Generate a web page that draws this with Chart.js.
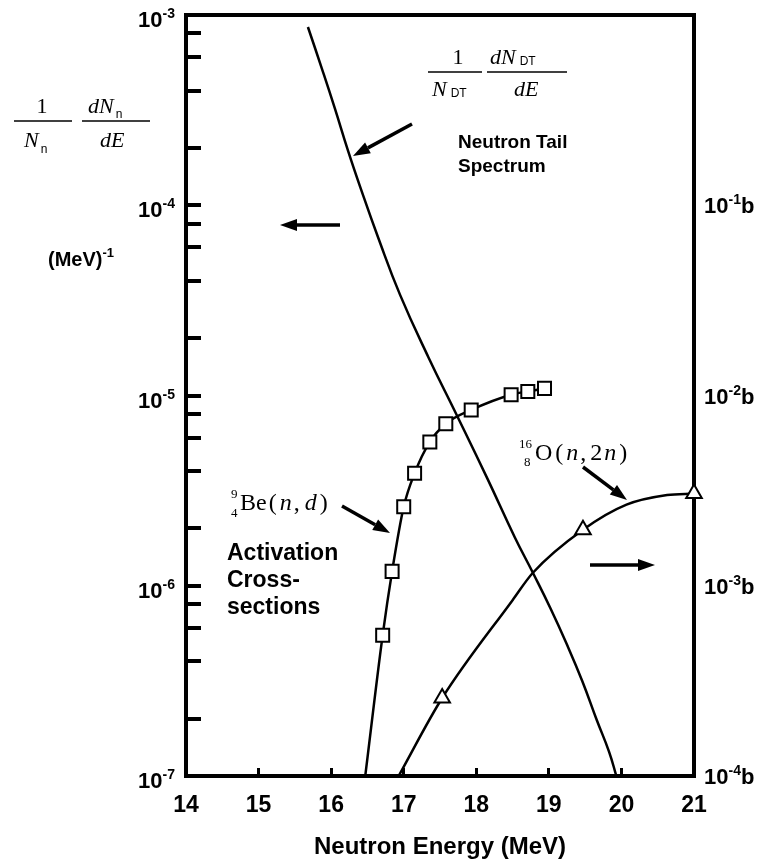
<!DOCTYPE html>
<html>
<head>
<meta charset="utf-8">
<script src="https://cdn.jsdelivr.net/npm/chart.js@4.4.1/dist/chart.umd.min.js"></script>
<style>
html,body{margin:0;padding:0;background:#fff;}
#wrap{width:767px;height:867px;position:relative;}
</style>
</head>
<body>
<div id="wrap"><canvas id="c" width="767" height="867"></canvas></div>
<script>
// ---------- data ----------
const energyTicks = [14, 15, 16, 17, 18, 19, 20, 21];
const spectrumTicks = [1e-7, 2e-7, 4e-7, 6e-7, 8e-7, 1e-6, 2e-6, 4e-6, 6e-6, 8e-6,
                       1e-5, 2e-5, 4e-5, 6e-5, 8e-5, 1e-4, 2e-4, 4e-4, 6e-4, 8e-4, 1e-3];
const spectrumLabelExponents = [-7, -6, -5, -4, -3];
const crossSectionLabelExponents = [-4, -3, -2, -1];

// Neutron tail spectrum (1/N dN/dE, MeV^-1), left axis
const tailEnergy   = [15.68, 15.87, 16.05, 16.23, 16.40, 16.65, 16.95, 17.34, 17.73, 18.15,
                      18.53, 18.78, 19.02, 19.24, 19.46, 19.66, 19.83, 19.93];
const tailSpectrum = [8.65e-4, 5.26e-4, 3.24e-4, 1.95e-4, 1.25e-4, 6.73e-5, 3.38e-5, 1.59e-5, 7.9e-6, 3.68e-6,
                      1.80e-6, 1.17e-6, 7.64e-7, 5.0e-7, 3.16e-7, 1.97e-7, 1.34e-7, 1.0e-7];

// 9Be(n,d) activation cross-section (barn), right axis
const beEnergy       = [16.47, 16.71, 16.84, 17.00, 17.15, 17.36, 17.58, 17.93, 18.48, 18.71, 18.94];
const beCrossSection = [1.0e-4, 5.5e-4, 1.19e-3, 2.6e-3, 3.9e-3, 5.7e-3, 7.1e-3, 8.4e-3, 1.01e-2, 1.05e-2, 1.09e-2];
const beMeasured     = [false, true, true, true, true, true, true, true, true, true, true];

// 16O(n,2n) activation cross-section (barn), right axis
const oEnergy       = [16.93, 17.53, 18.50, 18.78, 19.47, 20.07, 20.63, 21.00];
const oCrossSection = [1.0e-4, 2.57e-4, 8.4e-4, 1.17e-3, 1.97e-3, 2.67e-3, 3.0e-3, 3.05e-3];
const oMeasured     = [false, true, false, false, true, false, false, true];

// ---------- styling ----------
const SANS = "'Liberation Sans', Arial, Helvetica, sans-serif";
const SERIF = "'Liberation Serif', 'Times New Roman', serif";
const bold = s => `bold ${s}px ${SANS}`;
const serif = s => `${s}px ${SERIF}`;
const serifIt = s => `italic ${s}px ${SERIF}`;
const sans = s => `${s}px ${SANS}`;

function runs(ctx, x, y, parts) {
  for (const p of parts) {
    ctx.font = p[1];
    ctx.fillText(p[0], x, y + (p[2] || 0));
    x += ctx.measureText(p[0]).width + (p[3] || 0);
  }
  return x;
}
function arrow(ctx, x1, y1, x2, y2) {
  const a = Math.atan2(y2 - y1, x2 - x1);
  const hl = 17, hw = 6;
  const bx = x2 - hl * Math.cos(a), by = y2 - hl * Math.sin(a);
  ctx.save();
  ctx.strokeStyle = '#000'; ctx.fillStyle = '#000';
  ctx.lineWidth = 3.5; ctx.lineCap = 'butt';
  ctx.beginPath(); ctx.moveTo(x1, y1); ctx.lineTo(bx, by); ctx.stroke();
  ctx.beginPath();
  ctx.moveTo(x2, y2);
  ctx.lineTo(bx + hw * Math.sin(a), by - hw * Math.cos(a));
  ctx.lineTo(bx - hw * Math.sin(a), by + hw * Math.cos(a));
  ctx.closePath(); ctx.fill();
  ctx.restore();
}
function hline(ctx, x1, x2, y, w) {
  ctx.save(); ctx.lineWidth = w || 1.6; ctx.strokeStyle = '#000';
  ctx.beginPath(); ctx.moveTo(x1, y); ctx.lineTo(x2, y); ctx.stroke(); ctx.restore();
}

const annotPlugin = {
  id: 'annot',
  afterDraw(chart) {
    const ctx = chart.ctx;
    const ca = chart.chartArea;
    const ys = chart.scales.y, y2s = chart.scales.y2;
    ctx.save();
    ctx.fillStyle = '#000';
    ctx.textBaseline = 'alphabetic';
    ctx.textAlign = 'left';

    // top frame line
    ctx.strokeStyle = '#000'; ctx.lineWidth = 4;
    ctx.beginPath(); ctx.moveTo(ca.left - 2, ca.top); ctx.lineTo(ca.right + 2, ca.top); ctx.stroke();

    // left tick labels 10^n
    for (const e of spectrumLabelExponents) {
      const py = ys.getPixelForValue(Math.pow(10, e));
      ctx.font = bold(22); const w1 = ctx.measureText('10').width;
      ctx.font = bold(14); const w2 = ctx.measureText(String(e)).width;
      const x0 = 175 - w1 - w2;
      runs(ctx, x0, py + 12, [['10', bold(22)], [String(e), bold(14), -9]]);
    }
    // right tick labels 10^n b
    for (const e of crossSectionLabelExponents) {
      const py = y2s.getPixelForValue(Math.pow(10, e));
      runs(ctx, 704, py + 8, [['10', bold(22)], [String(e), bold(14), -9], ['b', bold(22)]]);
    }

    // left axis title: 1/N_n dN_n/dE
    ctx.textAlign = 'center';
    ctx.font = serif(22); ctx.fillText('1', 42, 113);
    ctx.textAlign = 'left';
    hline(ctx, 14, 72, 121);
    runs(ctx, 24, 147, [['N', serifIt(22), 0, 2], ['n', sans(12), 6]]);
    runs(ctx, 88, 113, [['dN', serifIt(22), 0, 2], ['n', sans(12), 5]]);
    hline(ctx, 82, 150, 121);
    runs(ctx, 100, 147, [['dE', serifIt(22)]]);
    runs(ctx, 48, 266, [['(MeV)', bold(20)], ['-1', bold(13), -9]]);

    // tail spectrum label: 1/N_DT dN_DT/dE
    ctx.textAlign = 'center';
    ctx.font = serif(22); ctx.fillText('1', 458, 64);
    ctx.textAlign = 'left';
    hline(ctx, 428, 482, 72);
    runs(ctx, 432, 96, [['N', serifIt(22), 0, 4], ['DT', sans(12), 1]]);
    runs(ctx, 490, 64, [['dN', serifIt(22), 0, 4], ['DT', sans(12), 1]]);
    hline(ctx, 487, 567, 72);
    runs(ctx, 514, 96, [['dE', serifIt(22)]]);
    ctx.font = bold(19);
    ctx.fillText('Neutron Tail', 458, 148);
    ctx.fillText('Spectrum', 458, 172);

    // Be label
    runs(ctx, 231, 498, [['9', serif(13)]]);
    runs(ctx, 231, 517, [['4', serif(13)]]);
    runs(ctx, 240, 510, [['Be', serif(24), 0, 2], ['(', serif(24), 0, 3], ['n', serifIt(24), 0, 2],
                          [',', serif(24), 0, 5], ['d', serifIt(24), 0, 3], [')', serif(24)]]);
    ctx.font = bold(23);
    ctx.fillText('Activation', 227, 560);
    ctx.fillText('Cross-', 227, 587);
    ctx.fillText('sections', 227, 614);

    // O label
    runs(ctx, 519, 448, [['16', serif(13)]]);
    runs(ctx, 524, 466, [['8', serif(13)]]);
    runs(ctx, 535, 460, [['O', serif(24), 0, 3], ['(', serif(24), 0, 3], ['n', serifIt(24), 0, 2],
                          [',', serif(24), 0, 4], ['2', serif(24), 0, 2], ['n', serifIt(24), 0, 3], [')', serif(24)]]);

    // arrows
    arrow(ctx, 412, 124, 353, 156);
    arrow(ctx, 340, 225, 280, 225);
    arrow(ctx, 342, 506, 390, 533);
    arrow(ctx, 583, 467, 627, 500);
    arrow(ctx, 590, 565, 655, 565);
    ctx.restore();
  }
};

const pts = (xs, ys) => xs.map((x, i) => ({ x, y: ys[i] }));

new Chart(document.getElementById('c').getContext('2d'), {
  type: 'line',
  data: {
    datasets: [
      {
        label: '9Be(n,d)',
        data: pts(beEnergy, beCrossSection),
        yAxisID: 'y2',
        borderColor: '#000', borderWidth: 2.5,
        pointStyle: 'rect',
        pointRadius: beMeasured.map(m => m ? 9.2 : 0),
        pointBackgroundColor: '#fff', pointBorderColor: '#000', pointBorderWidth: 2,
        cubicInterpolationMode: 'monotone', clip: false
      },
      {
        label: '16O(n,2n)',
        data: pts(oEnergy, oCrossSection),
        yAxisID: 'y2',
        borderColor: '#000', borderWidth: 2.5,
        pointStyle: 'triangle',
        pointRadius: oMeasured.map(m => m ? 9 : 0),
        pointBackgroundColor: '#fff', pointBorderColor: '#000', pointBorderWidth: 2,
        cubicInterpolationMode: 'monotone', clip: false
      },
      {
        label: 'Neutron tail spectrum',
        data: pts(tailEnergy, tailSpectrum),
        yAxisID: 'y',
        borderColor: '#000', borderWidth: 2.5,
        pointRadius: 0,
        tension: 0.45
      }
    ]
  },
  options: {
    responsive: false, animation: false, devicePixelRatio: 1,
    layout: { padding: { top: 15, left: 0, right: 0, bottom: 0 } },
    plugins: { legend: { display: false }, tooltip: { enabled: false } },
    scales: {
      x: {
        type: 'linear', position: 'bottom', min: 14, max: 21,
        afterBuildTicks: s => { s.ticks = energyTicks.map(v => ({ value: v })); },
        afterFit: s => { s.height = 91; },
        grid: { drawOnChartArea: false, drawTicks: true, tickLength: -8, lineWidth: 3, color: '#000' },
        border: { display: true, color: '#000', width: 4 },
        ticks: { display: true, color: '#000', font: { family: SANS, size: 23, weight: 'bold' },
                 padding: 24, maxRotation: 0, autoSkip: false, callback: v => String(v) },
        title: { display: true, text: 'Neutron Energy (MeV)', color: '#000',
                 font: { family: SANS, size: 24, weight: 'bold' }, padding: { top: 0, bottom: 5 } }
      },
      y: {
        type: 'logarithmic', position: 'left', min: 1e-7, max: 1e-3,
        afterBuildTicks: s => { s.ticks = spectrumTicks.map(v => ({ value: v })); },
        afterFit: s => { s.width = 186; },
        grid: { drawOnChartArea: false, drawTicks: true, tickLength: -15, lineWidth: 4, color: '#000' },
        border: { display: true, color: '#000', width: 4 },
        ticks: { display: false }
      },
      y2: {
        type: 'logarithmic', position: 'right', min: 1e-4, max: 1,
        afterFit: s => { s.width = 73; },
        grid: { display: false, drawOnChartArea: false },
        border: { display: true, color: '#000', width: 4 },
        ticks: { display: false }
      }
    }
  },
  plugins: [annotPlugin]
});
</script>
</body>
</html>
